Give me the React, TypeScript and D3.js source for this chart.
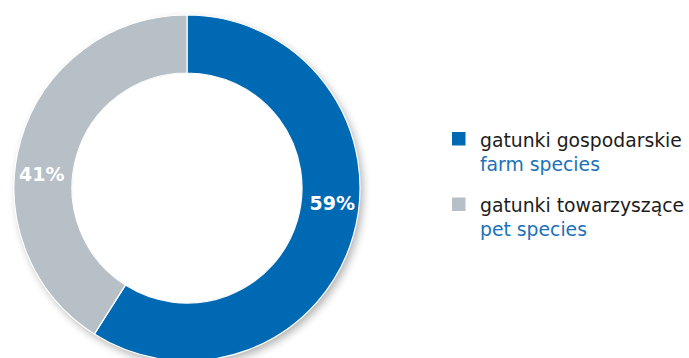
import React from "react";
import * as d3 from "d3";

const categoriesPl = ["gatunki gospodarskie", "gatunki towarzyszące"];
const categoriesEn = ["farm species", "pet species"];
const values = [59, 41];
const labels = ["59%", "41%"];
const colors = ["#0069b4", "#b7bfc7"];

const W = 689;
const H = 358;

export default function App() {
  const cx = 187;
  const cy = 188;
  const rOuter = 173;
  const rInner = 115;

  const pie = d3.pie<number>().sort(null).value((d) => d);
  const arcs = pie(values);
  const arcGen = d3.arc<d3.PieArcDatum<number>>().innerRadius(rInner).outerRadius(rOuter);
  const labelRadius = (rInner + rOuter) / 2 + 2;
  const labelShift = (-10.5 * Math.PI) / 180;

  return (
    <svg
      width={W}
      height={H}
      style={{ position: "absolute", left: 0, top: 0, background: "#fff" }}
      fontFamily="'DejaVu Sans', sans-serif"
    >
      <defs>
        <filter id="sh" x="-20%" y="-20%" width="140%" height="140%">
          <feGaussianBlur stdDeviation="4" />
        </filter>
      </defs>
      <g transform={`translate(${cx},${cy})`}>
        <circle cx={3} cy={4} r={rOuter} fill="#000" opacity={0.3} filter="url(#sh)" />
        <circle cx={0} cy={0} r={rInner} fill="#fff" />
        {arcs.map((a, i) => (
          <path key={i} d={arcGen(a) || ""} fill={colors[i]} stroke="#fff" strokeWidth={1.2} />
        ))}
        {arcs.map((a, i) => {
          const ang = (a.startAngle + a.endAngle) / 2 + labelShift;
          const x = Math.sin(ang) * labelRadius;
          const y = -Math.cos(ang) * labelRadius;
          return (
            <text
              key={i}
              x={x}
              y={y}
              textAnchor="middle"
              dominantBaseline="central"
              fill="#fff"
              fontWeight="bold"
              fontSize={19}
            >
              {labels[i]}
            </text>
          );
        })}
      </g>
      <g>
        {categoriesPl.map((c, i) => {
          const y0 = 132 + i * 65.5;
          return (
            <g key={i}>
              <rect x={452} y={y0} width={13.5} height={13.5} fill={colors[i]} />
              <text x={480} y={y0 + 14.5} fontSize={18.8} fill="#1d1d1b">
                {c}
              </text>
              <text x={480} y={y0 + 38.5} fontSize={18.8} fill="#1b72b8">
                {categoriesEn[i]}
              </text>
            </g>
          );
        })}
      </g>
    </svg>
  );
}
